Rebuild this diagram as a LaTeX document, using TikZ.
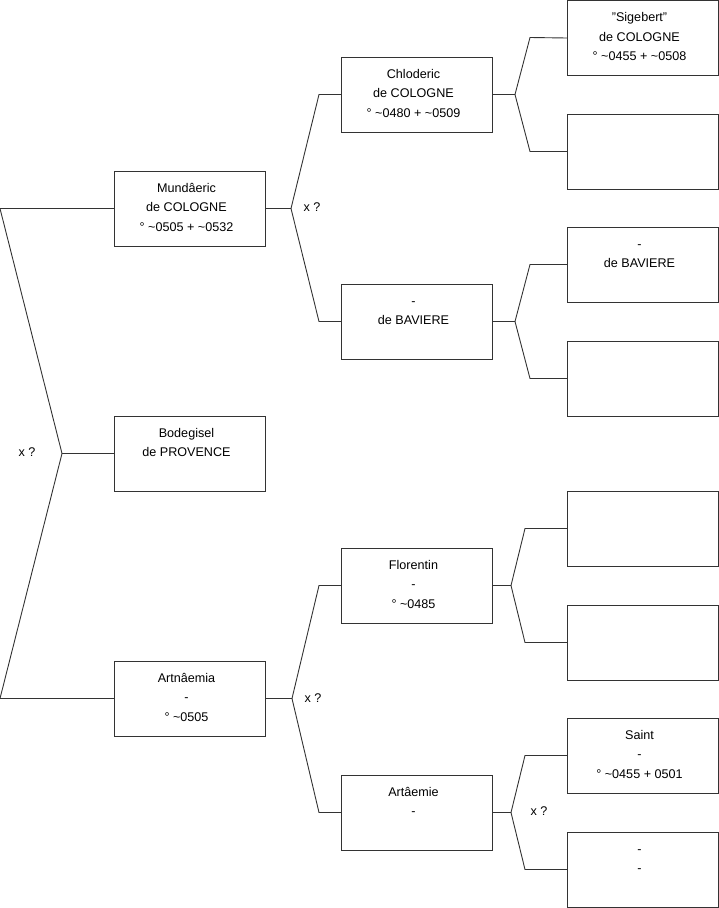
\documentclass[tikz,border=0pt]{standalone}
\usepackage{fontspec}
\setmainfont{Liberation Sans}
\newcommand{\tsq}{\textasciitilde}
\newcommand{\fl}{\rule{0pt}{9pt}}
\tikzset{
  ln/.style={draw=black!80, line width=0.9pt},
  pbox/.style={draw=black!80, line width=0.9pt, minimum width=151pt, minimum height=75pt, anchor=north west, inner sep=0pt, outer sep=0pt},
  lbl/.style={anchor=north, inner sep=0pt, align=center, font=\fontsize{12.6}{19.5}\selectfont},
  xq/.style={inner sep=0pt, font=\fontsize{12.6}{15}\selectfont}
}
\begin{document}
\begin{tikzpicture}[x=1pt, y=-1pt]
\useasboundingbox (0,0) rectangle (719,908);
% generation 1
\node[pbox] (A) at (114,171) {};
\node[pbox] (B) at (114,416) {};
\node[pbox] (C) at (114,661) {};
% generation 2
\node[pbox] (D) at (341,57) {};
\node[pbox] (E) at (341,284) {};
\node[pbox] (F) at (341,548) {};
\node[pbox] (G) at (341,775) {};
% generation 3
\node[pbox] (H1) at (567,0.5) {};
\node[pbox] (H2) at (567,114) {};
\node[pbox] (H3) at (567,227) {};
\node[pbox] (H4) at (567,341) {};
\node[pbox] (H5) at (567,491) {};
\node[pbox] (H6) at (567,605) {};
\node[pbox] (H7) at (567,718) {};
\node[pbox] (H8) at (567,832) {};
% labels
\node[lbl] (tA) at ([xshift=-3pt,yshift=-12pt]A.north) {\fl Mundâeric\\de COLOGNE\\° \tsq0505 + \tsq0532};
\node[lbl] (tB) at ([xshift=-3pt,yshift=-12pt]B.north) {\fl Bodegisel\\de PROVENCE};
\node[lbl] (tC) at ([xshift=-3pt,yshift=-12pt]C.north) {\fl Artnâemia\\-\\° \tsq0505};
\node[lbl] (tD) at ([xshift=-3pt,yshift=-12pt]D.north) {\fl Chloderic\\de COLOGNE\\° \tsq0480 + \tsq0509};
\node[lbl] (tE) at ([xshift=-3pt,yshift=-12pt]E.north) {\fl -\\de BAVIERE};
\node[lbl] (tF) at ([xshift=-3pt,yshift=-12pt]F.north) {\fl Florentin\\-\\° \tsq0485};
\node[lbl] (tG) at ([xshift=-3pt,yshift=-12pt]G.north) {\fl Artâemie\\-};
\node[lbl] (tH1) at ([xshift=-3pt,yshift=-12pt]H1.north) {\fl "Sigebert"\\de COLOGNE\\° \tsq0455 + \tsq0508};
\node[lbl] (tH3) at ([xshift=-3pt,yshift=-12pt]H3.north) {\fl -\\de BAVIERE};
\node[lbl] (tH7) at ([xshift=-3pt,yshift=-12pt]H7.north) {\fl Saint\\-\\° \tsq0455 + 0501};
\node[lbl] (tH8) at ([xshift=-3pt,yshift=-12pt]H8.north) {\fl -\\-};
% fork coordinates
\coordinate (l1) at (0,208.5);
\coordinate (l3) at (0,698.5);
\coordinate (f0) at (62,453.5);
\coordinate (fA) at (291,208.5);
\coordinate (fAt) at (319,94.5);
\coordinate (fAb) at (319,321.5);
\coordinate (fC) at (292,698.5);
\coordinate (fCt) at (319,585.5);
\coordinate (fCb) at (319,812.5);
\coordinate (fD) at (515,94.5);
\coordinate (fDt) at (530,37.5);
\coordinate (fDb) at (530,151.5);
\coordinate (fE) at (515,321.5);
\coordinate (fEt) at (530,264.5);
\coordinate (fEb) at (530,378.5);
\coordinate (fF) at (511,585.5);
\coordinate (fFt) at (525,528.5);
\coordinate (fFb) at (525,642.5);
\coordinate (fG) at (511,812.5);
\coordinate (fGt) at (525,755.5);
\coordinate (fGb) at (525,869.5);
% connectors
\draw[ln] (A.west) -- (l1) -- (f0) -- (l3) -- (C.west);
\draw[ln] (f0) -- (B.west);
\draw[ln] (A.east) -- (fA);
\draw[ln] (D.west) -- (fAt) -- (fA) -- (fAb) -- (E.west);
\draw[ln] (C.east) -- (fC);
\draw[ln] (F.west) -- (fCt) -- (fC) -- (fCb) -- (G.west);
\draw[ln] (D.east) -- (fD);
\draw[ln] (H1.west) -- (fDt) -- (fD) -- (fDb) -- (H2.west);
\draw[ln] (E.east) -- (fE);
\draw[ln] (H3.west) -- (fEt) -- (fE) -- (fEb) -- (H4.west);
\draw[ln] (F.east) -- (fF);
\draw[ln] (H5.west) -- (fFt) -- (fF) -- (fFb) -- (H6.west);
\draw[ln] (G.east) -- (fG);
\draw[ln] (H7.west) -- (fGt) -- (fG) -- (fGb) -- (H8.west);
% marriage marks
\node[xq] (x0) at (27,452) {x ?};
\node[xq] (x1) at (312,207) {x ?};
\node[xq] (x2) at (313,698) {x ?};
\node[xq] (x3) at (539,811) {x ?};
\end{tikzpicture}
\end{document}
